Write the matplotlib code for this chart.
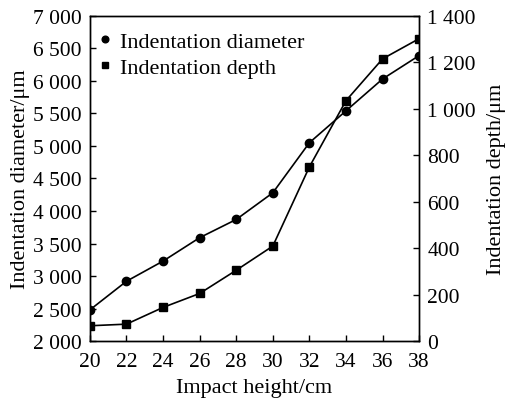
import matplotlib
matplotlib.use("Agg")
import matplotlib.pyplot as plt
from matplotlib.ticker import FuncFormatter

plt.rcParams['font.family'] = ['Liberation Serif', 'DejaVu Serif']
plt.rcParams['mathtext.fontset'] = 'stix'

height = [20, 22, 24, 26, 28, 30, 32, 34, 36, 38]
diameter = [2480, 2920, 3230, 3590, 3870, 4280, 5050, 5540, 6030, 6390]
depth = [66, 73, 145, 205, 305, 409, 750, 1035, 1215, 1302]

def sep(v, pos):
    s = f"{int(round(v)):,}"
    return s.replace(",", " ")

fig = plt.figure(figsize=(5.05, 4.02), dpi=100)
ax = fig.add_axes([0.178, 0.149, 0.652, 0.809])
ax2 = ax.twinx()

l1, = ax.plot(height, diameter, color='black', marker='o', markersize=6, lw=1.2,
              label='Indentation diameter')
l2, = ax2.plot(height, depth, color='black', marker='s', markersize=5.5, lw=1.2,
               label='Indentation depth')

ax.set_xlim(20, 38)
ax.set_ylim(2000, 7000)
ax2.set_ylim(0, 1400)
ax.set_xticks(range(20, 39, 2))
ax.set_yticks(range(2000, 7001, 500))
ax2.set_yticks(range(0, 1401, 200))
ax.yaxis.set_major_formatter(FuncFormatter(sep))
ax2.yaxis.set_major_formatter(FuncFormatter(sep))

for a in (ax, ax2):
    a.tick_params(direction='in', length=4, width=1, labelsize=15.5, pad=6)
    for sp in a.spines.values():
        sp.set_linewidth(1)
ax.tick_params(axis='x', pad=8)

ax.set_xlabel('Impact height/cm', fontsize=16, labelpad=5)
ax.set_ylabel('Indentation diameter/μm', fontsize=16, labelpad=2)
ax2.set_ylabel('Indentation depth/μm', fontsize=16, labelpad=8)

leg = ax.legend(handles=[l1, l2], loc='upper left', frameon=False, fontsize=16,
                handlelength=0, handletextpad=0.65, markerscale=0.8,
                borderaxespad=0.3, labelspacing=0.25)

fig.savefig('out.png', dpi=100)
